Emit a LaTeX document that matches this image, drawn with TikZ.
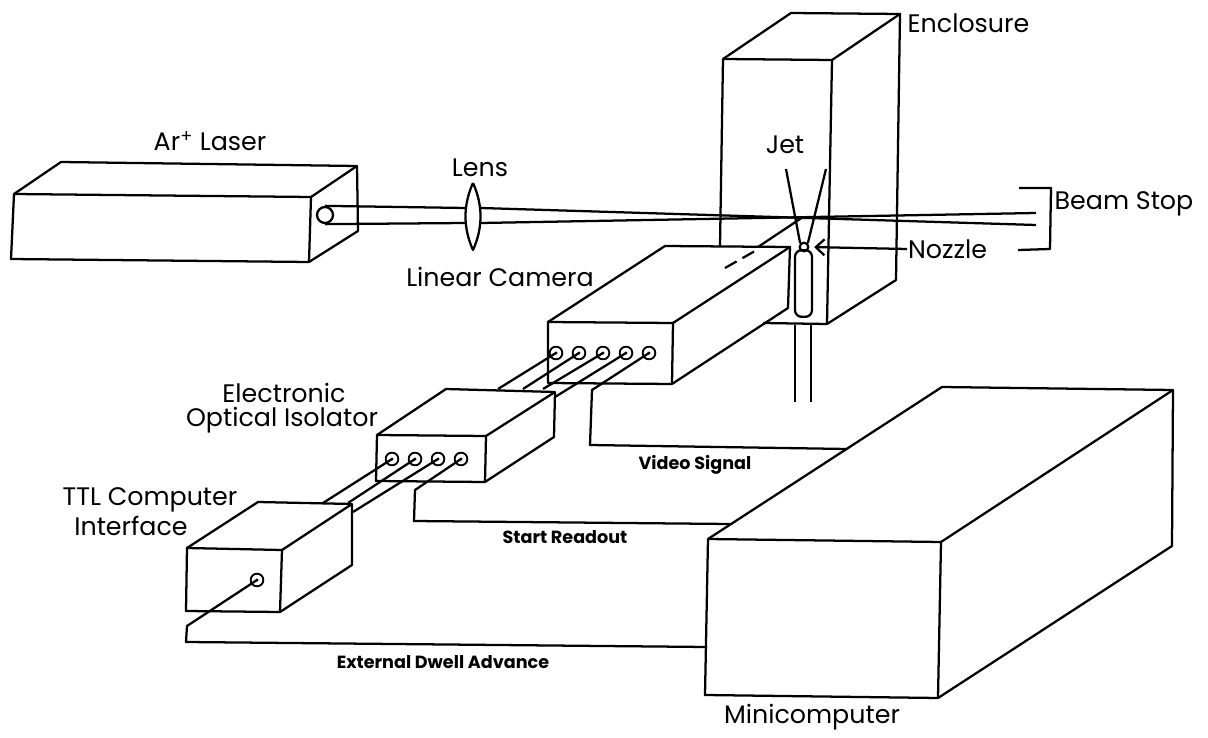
\documentclass[tikz,border=0pt]{standalone}
\usepackage{fontspec}
\setmainfont{Poppins}
\usetikzlibrary{positioning,arrows.meta}
\tikzset{
  part/.style={line width=1.7pt, line join=round},
  port/.style={circle, draw, line width=1.4pt, minimum size=9.5pt, inner sep=0pt,
    path picture={\fill (path picture bounding box.center) circle (1.2pt);}},
  biglabel/.style={font=\fontsize{19}{22}\selectfont, inner sep=0pt},
  siglabel/.style={font=\fontsize{13.2}{15}\selectfont\bfseries, inner sep=0pt}
}
\begin{document}
\begin{tikzpicture}[x=0.75pt, y=-0.75pt, >={Straight Barb[length=6.5pt,width=12pt]}, part]
\useasboundingbox (0,0) rectangle (1208,738);
% enclosure
\draw (720,246) -- (723,59) -- (832,60) -- (827,324) -- (763,323);
\draw (723,59) -- (791,13) -- (900,14) -- (896,280) -- (827,324);
\draw (832,60) -- (900,14);
% laser
\draw (14,194) -- (311,197) -- (309,262) -- (11,259) -- cycle;
\draw (14,194) -- (61,162) -- (357,166) -- (358,231) -- (309,262);
\draw (311,197) -- (357,166);
% lens and beam
\node[circle, draw, minimum size=12pt, inner sep=0pt] (aperture) at (325,215) {};
\coordinate (lensul) at (466,208);
\coordinate (lensll) at (466,223);
\coordinate (lensur) at (481,208);
\coordinate (lenslr) at (481,223);
\coordinate (stopu) at (1036,225);
\coordinate (stopl) at (1036,213);
\draw (aperture.north) -- (lensul);
\draw (aperture.south) -- (lensll);
\draw (lensur) -- (stopu);
\draw (lenslr) -- (stopl);
\draw (473,183) .. controls (463,205) and (463,228) .. (473,250) .. controls (483,228) and (483,205) .. (473,183);
% jet and nozzle
\node[circle, draw, minimum size=6.5pt, inner sep=0pt] (nozzle) at (804,247) {};
\node[draw, rounded corners=5pt, minimum width=12.75pt, minimum height=50pt, inner sep=0pt] (tube) at (803.5,283.5) {};
\coordinate (jetl) at (786,169);
\coordinate (jetr) at (826,169);
\draw (jetl) -- (nozzle.north west);
\draw (jetr) -- (nozzle.north east);
\draw (795,325) -- (795,402);
\draw (811,325) -- (811,402);
% linear camera
\draw (548,322) -- (673,323) -- (672,384) -- (548,383) -- cycle;
\draw (548,322) -- (665,246) -- (790,247) -- (788,308) -- (672,384);
\draw (673,323) -- (790,247);
\draw[dashed, dash pattern=on 10pt off 5pt] (725,268) -- (755,251);
\draw (758,247) -- (803,217);
% isolator
\draw (377,435) -- (486,436) -- (485,482) -- (376,481) -- cycle;
\draw (377,435) -- (446,389) -- (555,392) -- (554,437) -- (485,482);
\draw (486,436) -- (555,392);
% ttl interface
\draw (187,548) -- (282,550) -- (280,612) -- (186,611) -- cycle;
\draw (187,548) -- (258,502) -- (352,504) -- (352,565) -- (280,612);
\draw (282,550) -- (352,504);
% minicomputer
\draw (708,539) -- (941,542) -- (938,698) -- (705,695) -- cycle;
\draw (708,539) -- (942,387) -- (1173,390) -- (1172,546) -- (938,698);
\draw (941,542) -- (1173,390);
% ports
\node[port] (cam1) at (556,353) {};
\node[port] (cam2) at (579,353) {};
\node[port] (cam3) at (603,353) {};
\node[port] (cam4) at (626,353) {};
\node[port] (cam5) at (649,353) {};
\node[port] (iso1) at (392,459) {};
\node[port] (iso2) at (415,459) {};
\node[port] (iso3) at (438,459) {};
\node[port] (iso4) at (461,459) {};
\node[port] (ttl1) at (257,580) {};
% wires
\draw (cam1.center) -- (498,389);
\draw (cam2.center) -- (523,389);
\draw (cam3.center) -- (543,389);
\draw (cam4.center) -- (555,397);
\draw (cam5.center) -- (592,390) -- (590,445) -- (847,449);
\draw (iso1.center) -- (323,503);
\draw (iso2.center) -- (348,503);
\draw (iso3.center) -- (353,512);
\draw (iso4.center) -- (415,490) -- (414,521) -- (730,524);
\draw (ttl1.center) -- (187,626) -- (186,642) -- (707,647);
% beam stop
\draw (1019,188) -- (1051,188) -- (1050,249) -- (1018,250);
% labels
\node[biglabel] (enclab) at (968.5,23) {Enclosure};
\node[biglabel] (arlab) at (210,141) {Ar\textsuperscript{+} Laser};
\node[biglabel] (lenslab) at (480,168) {Lens};
\node[biglabel] (jetlab) at (785,145) {Jet};
\node[biglabel] (stoplab) at (1124,204) {Beam Stop};
\node[biglabel, anchor=west] (nozlab) at (907,249) {Nozzle};
\node[biglabel] (camlab) at (500,277) {Linear Camera};
\node[biglabel] (isolab1) at (284,393) {Electronic};
\node[biglabel] (isolab2) at (282,420) {Optical Isolator};
\node[biglabel] (ttllab1) at (150,500) {TTL Computer};
\node[biglabel] (ttllab2) at (131,526) {Interface};
\node[biglabel] (minilab) at (812,717) {Minicomputer};
\node[siglabel] (vidlab) at (695,465) {Video Signal};
\node[siglabel] (startlab) at (565,537) {Start Readout};
\node[siglabel] (dwelllab) at (443,662) {External Dwell Advance};
\draw[->, shorten >=3.5pt] (nozlab.west) -- (nozzle.east);
\end{tikzpicture}
\end{document}
